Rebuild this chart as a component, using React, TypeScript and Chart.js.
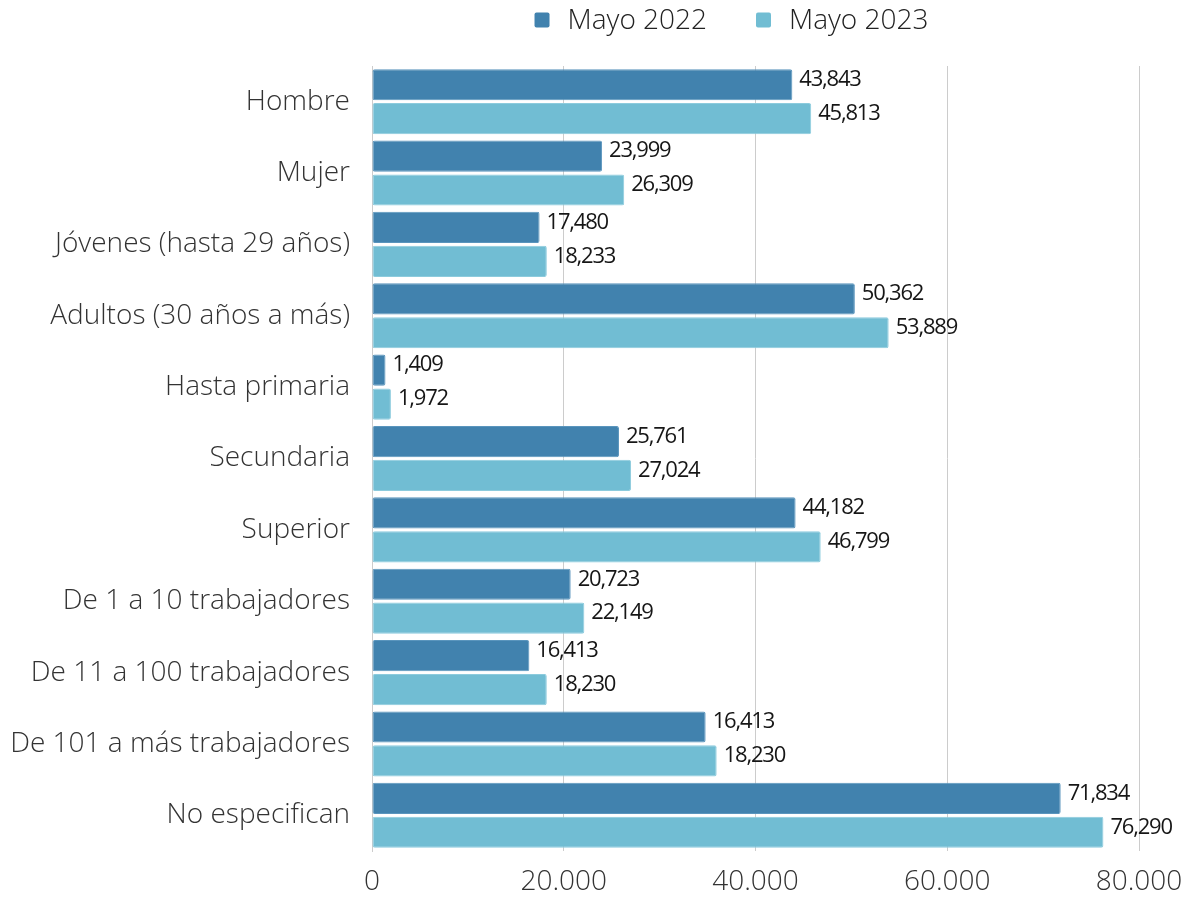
import React, { useEffect, useRef } from "react";
import { Chart, registerables } from "chart.js";

Chart.register(...registerables);

const categories = [
  "Hombre",
  "Mujer",
  "Jóvenes (hasta 29 años)",
  "Adultos (30 años a más)",
  "Hasta primaria",
  "Secundaria",
  "Superior",
  "De 1 a 10 trabajadores",
  "De 11 a 100 trabajadores",
  "De 101 a más trabajadores",
  "No especifican",
];

const seriesNames = ["Mayo 2022", "Mayo 2023"];

const values2022 = [43843, 23999, 17480, 50362, 1409, 25761, 44182, 20723, 16413, 34800, 71834];
const values2023 = [45813, 26309, 18233, 53889, 1972, 27024, 46799, 22149, 18230, 35950, 76290];

const labels2022 = ["43,843", "23,999", "17,480", "50,362", "1,409", "25,761", "44,182", "20,723", "16,413", "16,413", "71,834"];
const labels2023 = ["45,813", "26,309", "18,233", "53,889", "1,972", "27,024", "46,799", "22,149", "18,230", "18,230", "76,290"];

const xTicks = [0, 20000, 40000, 60000, 80000];
const xTickLabels = ["0", "20.000", "40.000", "60.000", "80.000"];

const colors = ["#4182ae", "#71bdd3"];
const borderColors = ["#5a95bd", "#8ccbdd"];
const dataLabelSets = [labels2022, labels2023];

const FONT = "'Open Sans', sans-serif";

const dataLabelPlugin = {
  id: "dataLabelPlugin",
  afterDatasetsDraw(chart: any) {
    const ctx = chart.ctx;
    ctx.save();
    ctx.font = `400 22px ${FONT}`;
    (ctx as any).letterSpacing = "-1.2px";
    ctx.fillStyle = "#161616";
    ctx.textAlign = "left";
    ctx.textBaseline = "middle";
    chart.data.datasets.forEach((ds: any, di: number) => {
      const meta = chart.getDatasetMeta(di);
      meta.data.forEach((el: any, i: number) => {
        ctx.fillText(dataLabelSets[di][i], el.x + 7, el.y - 5);
      });
    });
    ctx.restore();
  },
};

const legendPlugin = {
  id: "customLegend",
  afterDraw(chart: any) {
    const ctx = chart.ctx;
    const area = chart.chartArea;
    ctx.save();
    ctx.font = `300 28px ${FONT}`;
    ctx.textBaseline = "middle";
    ctx.textAlign = "left";
    const box = 15;
    const boxGap = 18;
    const itemGap = 49;
    const widths = seriesNames.map((n) => ctx.measureText(n).width);
    let total = 0;
    widths.forEach((w, i) => {
      total += box + boxGap + w + (i < widths.length - 1 ? itemGap : 0);
    });
    let x = (area.left + area.right) / 2 - 24 - total / 2;
    const y = 20;
    seriesNames.forEach((n, i) => {
      ctx.fillStyle = colors[i];
      ctx.beginPath();
      (ctx as any).roundRect(x, y - box / 2, box, box, 2);
      ctx.fill();
      x += box + boxGap;
      ctx.fillStyle = "#222222";
      ctx.fillText(n, x, y + 1);
      x += widths[i] + itemGap;
    });
    ctx.restore();
  },
};

export default function App() {
  const ref = useRef<HTMLCanvasElement>(null);

  useEffect(() => {
    if (!ref.current) return;
    const chart = new Chart(ref.current, {
      type: "bar",
      data: {
        labels: categories,
        datasets: [
          {
            label: seriesNames[0],
            data: values2022,
            backgroundColor: colors[0],
            borderColor: borderColors[0],
            borderWidth: 1,
            borderRadius: 2,
            borderSkipped: false,
            categoryPercentage: 0.95,
            barPercentage: 0.92,
          },
          {
            label: seriesNames[1],
            data: values2023,
            backgroundColor: colors[1],
            borderColor: borderColors[1],
            borderWidth: 1,
            borderRadius: 2,
            borderSkipped: false,
            categoryPercentage: 0.95,
            barPercentage: 0.92,
          },
        ],
      },
      options: {
        indexAxis: "y",
        responsive: false,
        maintainAspectRatio: false,
        animation: false,
        layout: { padding: { top: 66, right: 46, bottom: 0, left: 0 } },
        plugins: {
          legend: { display: false },
          tooltip: { enabled: false },
        },
        scales: {
          x: {
            min: 0,
            max: 80000,
            afterBuildTicks(scale: any) {
              scale.ticks = xTicks.map((v) => ({ value: v }));
            },
            afterFit(scale: any) {
              scale.height = 47;
              scale.paddingLeft = 0;
              scale.paddingRight = 0;
            },
            grid: { color: "#cccccc", lineWidth: 1, drawTicks: false },
            border: { display: false },
            ticks: {
              padding: 14,
              color: "#333333",
              font: { family: FONT, size: 28, weight: 300 as any },
              callback: (v: any) => xTickLabels[xTicks.indexOf(Number(v))] ?? "",
              maxRotation: 0,
            },
          },
          y: {
            afterFit(scale: any) {
              scale.width = 372;
            },
            grid: { display: false, drawTicks: false },
            border: { display: true, color: "#cccccc", width: 1 },
            ticks: {
              padding: 22,
              color: "#333333",
              font: { family: FONT, size: 28, weight: 300 as any },
            },
          },
        },
      },
      plugins: [dataLabelPlugin, legendPlugin],
    });
    return () => chart.destroy();
  }, []);

  return (
    <div style={{ position: "fixed", left: 0, top: 0, width: 1185, height: 898, background: "#ffffff" }}>
      <canvas ref={ref} width={1185} height={898} style={{ width: 1185, height: 898 }} />
    </div>
  );
}
